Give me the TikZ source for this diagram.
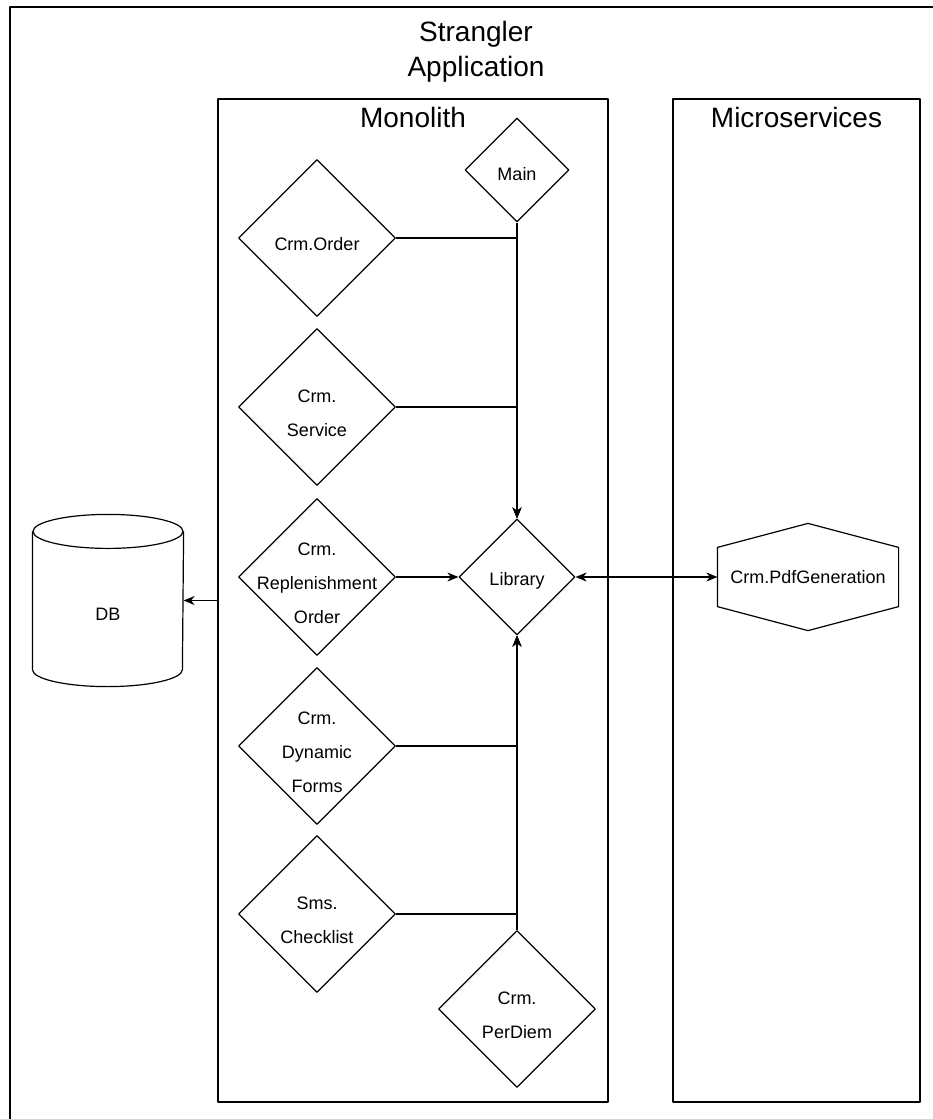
\documentclass[tikz,border=0pt]{standalone}
\usepackage{fontspec}
\setmainfont{Liberation Sans}
\usetikzlibrary{shapes.geometric,arrows.meta}
\begin{document}
\begin{tikzpicture}[x=1pt,y=-1pt,line join=round,line width=1.2pt,>={Stealth[length=11pt,width=9pt,inset=3.5pt]},
	small/.style={font=\fontsize{18}{34}\selectfont,align=center,inner sep=0pt},
	big/.style={font=\fontsize{28}{35}\selectfont,align=center,inner sep=0pt},
	dia/.style={diamond,draw,inner sep=0pt,minimum width=#1,minimum height=#1},
	dia/.default=157pt,
	lane/.style={draw,inner sep=0pt,minimum width=#1,minimum height=1003pt}]
	\useasboundingbox (0,0) rectangle (933,1119);
	\draw (10,7) rectangle (950,1140);
	\node[big] (title) at (476,52) {Strangler\\Application};
	\node[lane=390pt,label={[big,anchor=north,yshift=-8pt]north:Monolith}] (mono) at (413,600.5) {};
	\node[lane=247pt,label={[big,anchor=north,yshift=-8pt]north:Microservices}] (micro) at (796.5,600.5) {};
	\node[dia=104pt,label={[small,yshift=-4pt]center:Main}] (main) at (517,170) {};
	\node[dia=116pt,label={[small,yshift=-4pt]center:Library}] (lib) at (517,577) {};
	\node[dia,label={[small,yshift=-6pt]center:Crm.Order}] (order) at (317,238) {};
	\node[dia,label={[small,yshift=-6pt]center:Crm.\\Service}] (serv) at (317,407) {};
	\node[dia,label={[small,yshift=-6pt]center:Crm.\\Replenishment\\Order}] (repl) at (317,577) {};
	\node[dia,label={[small,yshift=-6pt]center:Crm.\\Dynamic\\Forms}] (dyn) at (317,746) {};
	\node[dia,label={[small,yshift=-6pt]center:Sms.\\Checklist}] (sms) at (317,914) {};
	\node[dia,label={[small,yshift=-6pt]center:Crm.\\PerDiem}] (perdiem) at (517,1009) {};
	\node[small,minimum width=180pt,minimum height=106pt] (pdf) at (808,577) {Crm.PdfGeneration};
	\draw (pdf.north)--([yshift=-24pt]pdf.north west)--([yshift=24pt]pdf.south west)--(pdf.south)--([yshift=24pt]pdf.south east)--([yshift=-24pt]pdf.north east)--cycle;
	\node[inner sep=0pt,minimum width=150pt,minimum height=171pt,label={[small,yshift=-14pt]center:DB}] (db) at (108,600.5) {};
	\draw ([yshift=-17pt]db.north) ellipse [x radius=75pt,y radius=17pt];
	\draw ([yshift=-17pt]db.north west)--([yshift=17pt]db.south west) arc[start angle=180,end angle=360,x radius=75pt,y radius=17pt]--([yshift=-17pt]db.north east);
	\draw[->](main.south)--(lib.north);
	\draw[->](order.east)-|(lib.north);
	\draw[->](serv.east)-|(lib.north);
	\draw[->](repl.east)--(lib.west);
	\draw[->](dyn.east)-|(lib.south);
	\draw[->](sms.east)-|(lib.south);
	\draw[->](perdiem.north)--(lib.south);
	\draw[<->](lib.east)--(pdf.west);
	\draw[->](mono.west)--(db.east);
\end{tikzpicture}
\end{document}
